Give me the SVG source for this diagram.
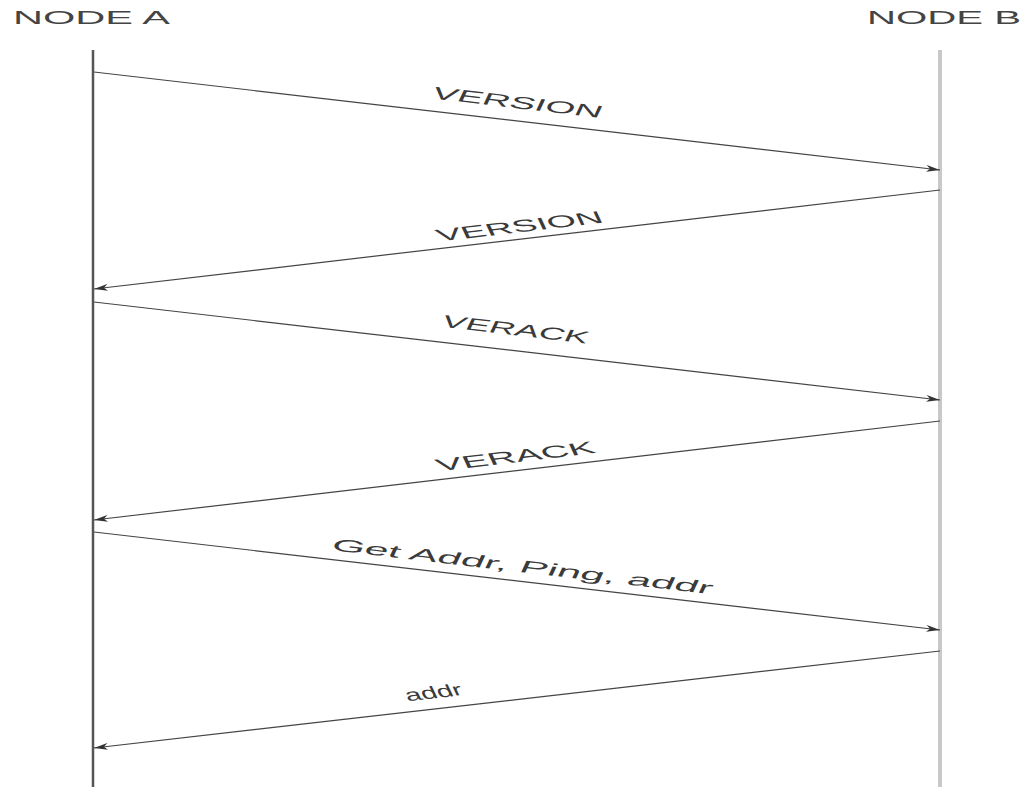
<svg xmlns="http://www.w3.org/2000/svg" width="1024" height="787" viewBox="0 0 1024 787">
<style>
.lbl{font-family:"Liberation Sans",Arial,sans-serif;font-size:17px;fill:#3a3a3a;text-anchor:middle}
.node{font-family:"Liberation Sans",Arial,sans-serif;font-size:18px;fill:#444}
.msg{stroke:#444;stroke-width:1.2;fill:none;marker-end:url(#ah)}
</style>
<defs>
<marker id="ah" viewBox="0 0 14 8" refX="14" refY="4" markerWidth="14" markerHeight="8" markerUnits="userSpaceOnUse" orient="auto">
<path d="M0,0.5 L14,4 L0,7.5 L4,4 Z" fill="#333"/>
</marker>
</defs>
<rect width="1024" height="787" fill="#fff"/>
<g id="nodeA">
<text class="node" transform="translate(13,24) scale(2,1)" textLength="78.5" lengthAdjust="spacingAndGlyphs">NODE A</text>
<line x1="93" y1="50" x2="93" y2="787" stroke="#555" stroke-width="2.5"/>
</g>
<g id="nodeB">
<text class="node" transform="translate(867,24) scale(2,1)" textLength="77" lengthAdjust="spacingAndGlyphs">NODE B</text>
<line x1="940" y1="50" x2="940" y2="787" stroke="#c8c8c8" stroke-width="4"/>
</g>
<g id="connectors">
<line class="msg" x1="94" y1="72" x2="940" y2="170"/>
<line class="msg" x1="940" y1="190" x2="94" y2="289"/>
<line class="msg" x1="94" y1="302" x2="940" y2="400"/>
<line class="msg" x1="940" y1="421" x2="94" y2="520"/>
<line class="msg" x1="94" y1="532" x2="940" y2="630"/>
<line class="msg" x1="940" y1="651" x2="94" y2="748"/>
</g>
<g id="labels">
<text class="lbl" transform="translate(515,108) scale(2,1) rotate(13.06)" textLength="87" lengthAdjust="spacingAndGlyphs">VERSION</text>
<text class="lbl" transform="translate(522,232) scale(2,1) rotate(-13.06)" textLength="85" lengthAdjust="spacingAndGlyphs">VERSION</text>
<text class="lbl" transform="translate(513,335) scale(2,1) rotate(13.06)" textLength="75" lengthAdjust="spacingAndGlyphs">VERACK</text>
<text class="lbl" transform="translate(518,462) scale(2,1) rotate(-13.06)" textLength="81" lengthAdjust="spacingAndGlyphs">VERACK</text>
<text class="lbl" transform="translate(520,572) scale(2,1) rotate(13.06)" textLength="195" lengthAdjust="spacingAndGlyphs">Get Addr, Ping, addr</text>
<text class="lbl" transform="translate(436,698) scale(2,1) rotate(-13.06)" textLength="29" lengthAdjust="spacingAndGlyphs">addr</text>
</g>
</svg>
